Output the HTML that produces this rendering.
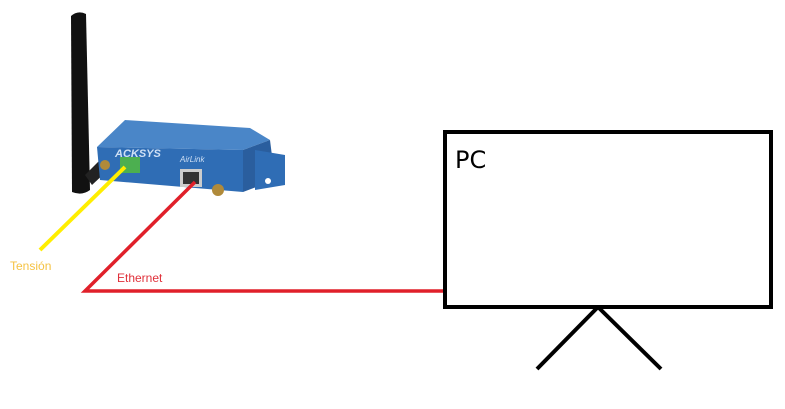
<!DOCTYPE html>
<html><head><style>
body{margin:0;width:785px;height:409px;background:#fff;overflow:hidden;position:relative;font-family:"Liberation Sans",sans-serif}
</style></head><body>
<svg width="785" height="409" style="position:absolute;left:0;top:0">
<!-- antenna -->
<path d="M71 16 Q78 10 86 14 L90 190 Q82 196 72 192 Z" fill="#111"/>
<path d="M85 175 L100 160 L108 170 L92 185 Z" fill="#222"/>
<!-- device -->
<polygon points="97,147 125,120 250,128 270,140 243,150" fill="#4a86c8"/>
<polygon points="97,147 243,150 243,192 100,180" fill="#2f6db5"/>
<polygon points="243,150 270,140 275,180 243,192" fill="#2a5e9e"/>
<polygon points="255,150 285,155 285,185 255,190" fill="#2f6db5"/>
<circle cx="268" cy="181" r="3" fill="#fff"/>
<text x="115" y="157" font-size="11" font-weight="bold" font-style="italic" fill="#cfe0f5">ACKSYS</text>
<text x="180" y="162" font-size="8" font-style="italic" fill="#cfe0f5">AirLink</text>
<rect x="120" y="157" width="20" height="16" fill="#4caf50"/>
<rect x="180" y="169" width="22" height="18" fill="#ccc"/>
<rect x="183" y="172" width="16" height="12" fill="#333"/>
<circle cx="105" cy="165" r="5" fill="#b08a3a"/>
<circle cx="218" cy="190" r="6" fill="#b08a3a"/>
<!-- cables -->
<line x1="40" y1="250" x2="125" y2="167" stroke="#ffee00" stroke-width="4"/>
<polyline points="195,182 85,291 445,291" fill="none" stroke="#e0202a" stroke-width="3.5"/>
<!-- PC -->
<rect x="445" y="132" width="326" height="175" fill="none" stroke="#000" stroke-width="4"/>
<line x1="598" y1="307" x2="537" y2="369" stroke="#000" stroke-width="4"/>
<line x1="598" y1="307" x2="661" y2="369" stroke="#000" stroke-width="4"/>
<text x="455" y="168" font-size="24" font-family="DejaVu Sans, sans-serif" fill="#000">PC</text>
<text x="10" y="270" font-size="12" fill="#f5c242">Tensión</text>
<text x="117" y="282" font-size="12" fill="#e0303a">Ethernet</text>
</svg>
</body></html>
